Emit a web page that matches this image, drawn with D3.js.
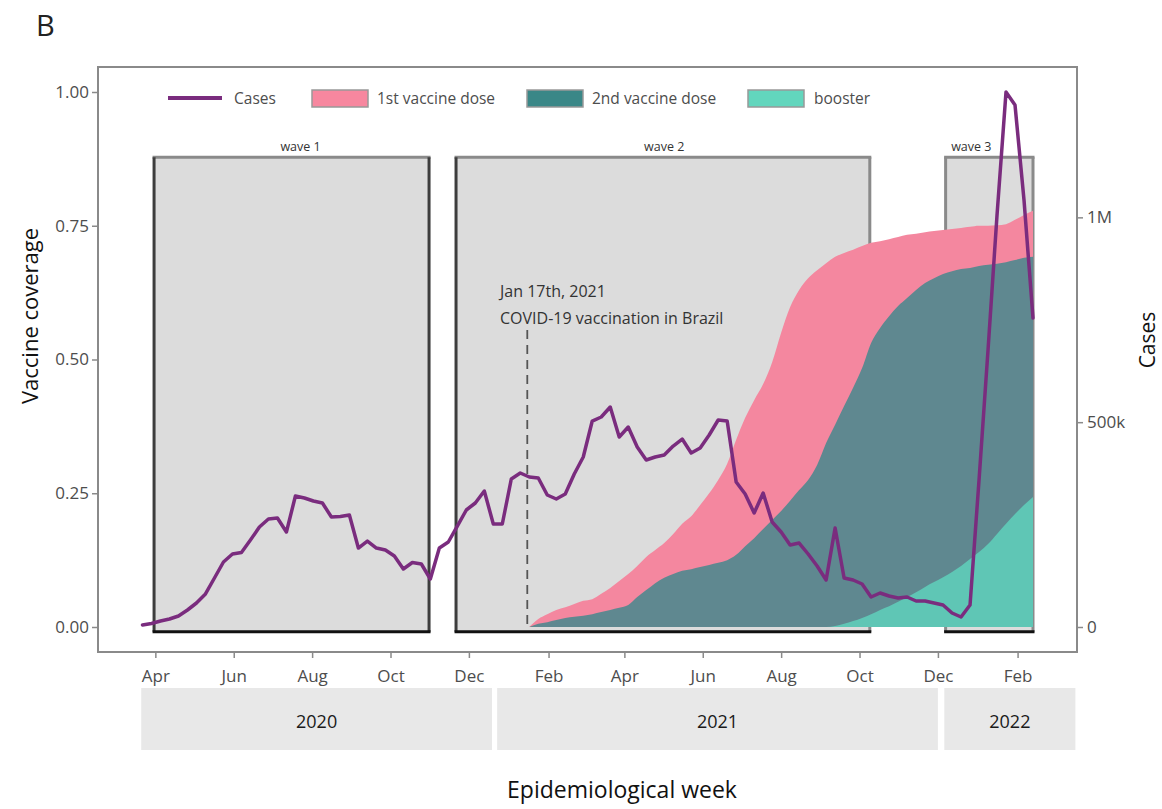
<!DOCTYPE html>
<html>
<head>
<meta charset="utf-8">
<script src="https://cdn.jsdelivr.net/npm/d3@7"></script>
<style>
  body { margin: 0; background: #fff; }
  text { font-family: "Open Sans", sans-serif; }
</style>
</head>
<body>
<svg id="chart" width="1162" height="809"></svg>
<script>
// Weekly reported COVID-19 cases in Brazil, one value per epidemiological week
const firstWeek = "2020-03-22";
const cases = [
  5000, 8500, 14600, 19500, 26900, 41500, 58600, 80600, 119600, 158700,
  178200, 181900, 212400, 244100, 263600, 266100, 231900, 319800, 314900, 307600,
  302700, 268500, 269700, 273400, 192800, 209900, 192800, 188000, 173300, 141600,
  157400, 153800, 117200, 192800, 207500, 246500, 285600, 302700, 332000, 251400,
  251400, 361300, 375900, 366200, 363700, 322200, 312400, 324700, 373500, 415000,
  502800, 512600, 537000, 463800, 488200, 439400, 407600, 415000, 419900, 441800,
  458900, 424700, 436900, 468700, 505300, 502800, 354000, 324700, 278300, 327100,
  256300, 231900, 200200, 205000, 178200, 148900, 114700, 241700, 119600, 114700,
  105000, 73200, 83000, 75700, 70800, 73200, 63500, 63500, 58600, 53700,
  34200, 24400, 53700, 358800, 676200, 1005700, 1306000, 1274200, 1042300, 754300
];

// Vaccine coverage (share of population), weekly from the start of vaccination
const vaccineStart = "2021-01-17";
const firstDose = [
  0, 0.015, 0.024, 0.032, 0.037, 0.043, 0.049, 0.052, 0.062, 0.073,
  0.086, 0.099, 0.114, 0.131, 0.144, 0.157, 0.174, 0.193, 0.207, 0.228,
  0.250, 0.275, 0.305, 0.350, 0.391, 0.424, 0.454, 0.495, 0.550, 0.598,
  0.630, 0.652, 0.667, 0.680, 0.692, 0.699, 0.705, 0.712, 0.718, 0.721,
  0.725, 0.729, 0.733, 0.735, 0.738, 0.740, 0.742, 0.744, 0.746, 0.748,
  0.750, 0.750, 0.751, 0.753, 0.761, 0.770, 0.778
];
const secondDose = [
  0, 0.006, 0.009, 0.013, 0.017, 0.019, 0.021, 0.024, 0.028, 0.032,
  0.036, 0.041, 0.056, 0.069, 0.082, 0.092, 0.099, 0.105, 0.108, 0.112,
  0.116, 0.120, 0.125, 0.135, 0.151, 0.166, 0.183, 0.200, 0.217, 0.236,
  0.256, 0.275, 0.303, 0.344, 0.378, 0.413, 0.447, 0.484, 0.531, 0.559,
  0.581, 0.600, 0.615, 0.630, 0.643, 0.652, 0.660, 0.665, 0.669, 0.671,
  0.675, 0.677, 0.679, 0.682, 0.686, 0.690, 0.692
];
const booster = [
  0, 0, 0, 0, 0, 0, 0, 0, 0, 0,
  0, 0, 0, 0, 0, 0, 0, 0, 0, 0,
  0, 0, 0, 0, 0, 0, 0, 0, 0, 0,
  0, 0, 0, 0, 0.002, 0.006, 0.011, 0.017, 0.024, 0.032,
  0.039, 0.047, 0.056, 0.065, 0.075, 0.084, 0.093, 0.103, 0.114, 0.127,
  0.140, 0.155, 0.174, 0.193, 0.211, 0.228, 0.243
];

// Epidemic waves
const waveNames = ["wave 1", "wave 2", "wave 3"];
const waveStarts = ["2020-03-31", "2020-11-21", "2021-12-07"];
const waveEnds = ["2020-10-31", "2021-10-09", "2022-02-13"];
const waveLabelDates = ["2020-07-23", "2021-05-02", "2021-12-27"];

// Axis ticks
const monthTicks = ["2020-04-01", "2020-06-01", "2020-08-01", "2020-10-01", "2020-12-01",
  "2021-02-01", "2021-04-01", "2021-06-01", "2021-08-01", "2021-10-01", "2021-12-01", "2022-02-01"];
const coverageTicks = [0, 0.25, 0.5, 0.75, 1];
const caseTicks = [0, 500000, 1000000];
const caseTickLabels = ["0", "500k", "1M"];

// Year bands under the time axis
const yearLabels = ["2020", "2021", "2022"];
const yearStarts = ["2020-03-21", "2020-12-23", "2021-12-06"];
const yearEnds = ["2020-12-19", "2021-12-01", "2022-03-18"];

// Legend entries
const legendLabels = ["Cases", "1st vaccine dose", "2nd vaccine dose", "booster"];

const parse = d3.utcParse("%Y-%m-%d");
const svg = d3.select("#chart");

const panel = { left: 98, right: 1077, top: 67, bottom: 652 };
const weekDates = cases.map((_, i) => d3.utcWeek.offset(parse(firstWeek), i));
const vacDates = firstDose.map((_, i) => d3.utcWeek.offset(parse(vaccineStart), i));

const x = d3.scaleUtc()
  .domain([weekDates[0], weekDates[weekDates.length - 1]])
  .range([142.5, 1033]);
const y = d3.scaleLinear().domain([0, 1]).range([627, 92]);
const yCases = d3.scaleLinear().domain([0, d3.max(cases)]).range([627, 92]);

const colors = {
  cases: "#7a2c7e",
  first: "#f4879f",
  second: "#5f8890",
  booster: "#5fc6b5"
};
const legendColors = ["#7a2c7e", "#f7879f", "#3a8787", "#62d6bd"];

// Title letter
svg.append("text").attr("x", 36).attr("y", 36)
  .attr("font-size", 29).attr("fill", "#222").text("B");

// Panel background and border
svg.append("rect")
  .attr("x", panel.left).attr("y", panel.top)
  .attr("width", panel.right - panel.left).attr("height", panel.bottom - panel.top)
  .attr("fill", "#fff").attr("stroke", "#8a8a8a").attr("stroke-width", 2);

// Wave shading
const waveTopY = y(0.878), waveBottomY = y(-0.009);
const waveG = svg.append("g");
waveNames.forEach((name, i) => {
  const x0 = x(parse(waveStarts[i])), x1 = x(parse(waveEnds[i]));
  waveG.append("rect")
    .attr("x", x0).attr("y", waveTopY)
    .attr("width", x1 - x0).attr("height", waveBottomY - waveTopY)
    .attr("fill", "#dcdcdc");
  waveG.append("line")
    .attr("x1", x0 - 1.5).attr("x2", x1 + 1.5).attr("y1", waveTopY).attr("y2", waveTopY)
    .attr("stroke", "#8a8a8a").attr("stroke-width", 3);
  const leftDark = i < 2, rightDark = i === 0;
  waveG.append("line")
    .attr("x1", x0).attr("x2", x0).attr("y1", waveTopY).attr("y2", waveBottomY)
    .attr("stroke", leftDark ? "#3d3d3d" : "#8a8a8a").attr("stroke-width", 3);
  waveG.append("line")
    .attr("x1", x1).attr("x2", x1).attr("y1", waveTopY).attr("y2", waveBottomY)
    .attr("stroke", rightDark ? "#3d3d3d" : "#8a8a8a").attr("stroke-width", 3);
  waveG.append("text")
    .attr("x", x(parse(waveLabelDates[i]))).attr("y", waveTopY - 6)
    .attr("text-anchor", "middle").attr("font-size", 12.5).attr("fill", "#333")
    .text(name);
});

// Start of vaccination marker
const vacX = x(parse(vaccineStart));
svg.append("line")
  .attr("x1", vacX - 2).attr("x2", vacX - 2).attr("y1", 330).attr("y2", y(0))
  .attr("stroke", "#555").attr("stroke-width", 1.8).attr("stroke-dasharray", "9,6");
svg.append("text").attr("x", 500).attr("y", 297)
  .attr("font-size", 16).attr("fill", "#333").text("Jan 17th, 2021");
svg.append("text").attr("x", 500).attr("y", 324)
  .attr("font-size", 16).attr("fill", "#333").text("COVID-19 vaccination in Brazil");

// Vaccine coverage areas
const area = d3.area()
  .x(d => x(d[0])).y0(y(0)).y1(d => y(d[1]))
  .curve(d3.curveMonotoneX);
[[firstDose, colors.first], [secondDose, colors.second], [booster, colors.booster]]
  .forEach(([vals, col]) => {
    svg.append("path")
      .datum(vals.map((v, i) => [vacDates[i], v]))
      .attr("d", area).attr("fill", col);
  });

// Bottom edges of the wave boxes
waveNames.forEach((name, i) => {
  const x0 = x(parse(waveStarts[i])), x1 = x(parse(waveEnds[i]));
  svg.append("line")
    .attr("x1", x0 - 1.5).attr("x2", x1 + 1.5).attr("y1", waveBottomY).attr("y2", waveBottomY)
    .attr("stroke", "#111").attr("stroke-width", 3);
});

// Weekly cases line
const line = d3.line().x((d, i) => x(weekDates[i])).y(d => yCases(d));
svg.append("path").datum(cases)
  .attr("d", line).attr("fill", "none")
  .attr("stroke", colors.cases).attr("stroke-width", 3.5)
  .attr("stroke-linejoin", "round").attr("stroke-linecap", "round");

// Left axis
const leftAxis = svg.append("g")
  .attr("transform", `translate(${panel.left - 1},0)`)
  .call(d3.axisLeft(y).tickValues(coverageTicks).tickFormat(d3.format(".2f")).tickSize(5).tickPadding(3));
leftAxis.select(".domain").remove();
leftAxis.selectAll(".tick line").attr("stroke", "#8a8a8a").attr("stroke-width", 1.5);
leftAxis.selectAll(".tick text").attr("font-size", 17).attr("fill", "#4d4d4d")
  .attr("font-family", "Open Sans, sans-serif");

// Right axis
const rightAxis = svg.append("g")
  .attr("transform", `translate(${panel.right + 1},0)`)
  .call(d3.axisRight(yCases).tickValues(caseTicks)
    .tickFormat((d, i) => caseTickLabels[i]).tickSize(5).tickPadding(4));
rightAxis.select(".domain").remove();
rightAxis.selectAll(".tick line").attr("stroke", "#8a8a8a").attr("stroke-width", 1.5);
rightAxis.selectAll(".tick text").attr("font-size", 17).attr("fill", "#4d4d4d")
  .attr("font-family", "Open Sans, sans-serif");

// Bottom axis
const bottomAxis = svg.append("g")
  .attr("transform", `translate(0,${panel.bottom + 1})`)
  .call(d3.axisBottom(x).tickValues(monthTicks.map(parse))
    .tickFormat(d3.utcFormat("%b")).tickSize(5).tickPadding(12));
bottomAxis.select(".domain").remove();
bottomAxis.selectAll(".tick line").attr("stroke", "#8a8a8a").attr("stroke-width", 1.5);
bottomAxis.selectAll(".tick text").attr("font-size", 17).attr("fill", "#4d4d4d")
  .attr("font-family", "Open Sans, sans-serif");

// Year bands
yearLabels.forEach((lab, i) => {
  const x0 = x(parse(yearStarts[i])), x1 = x(parse(yearEnds[i]));
  svg.append("rect").attr("x", x0).attr("y", 688)
    .attr("width", x1 - x0).attr("height", 62).attr("fill", "#e8e8e8");
  svg.append("text").attr("x", (x0 + x1) / 2).attr("y", 721)
    .attr("dominant-baseline", "central").attr("text-anchor", "middle")
    .attr("font-size", 18).attr("fill", "#1a1a1a").text(lab);
});

// Axis titles
svg.append("text").attr("transform", "translate(38,316) rotate(-90)")
  .attr("text-anchor", "middle").attr("font-size", 22).attr("fill", "#111")
  .text("Vaccine coverage");
svg.append("text").attr("transform", "translate(1155,340) rotate(-90)")
  .attr("text-anchor", "middle").attr("font-size", 21).attr("fill", "#111")
  .text("Cases");
svg.append("text").attr("x", 622).attr("y", 798)
  .attr("text-anchor", "middle").attr("font-size", 23).attr("fill", "#111")
  .text("Epidemiological week");

// Legend
const legend = svg.append("g");
const keyX = [168, 312, 527, 748];
const textX = [234, 377, 592, 814];
legendLabels.forEach((lab, i) => {
  if (i === 0) {
    legend.append("line").attr("x1", keyX[i]).attr("x2", keyX[i] + 54)
      .attr("y1", 98).attr("y2", 98)
      .attr("stroke", legendColors[i]).attr("stroke-width", 4);
  } else {
    legend.append("rect").attr("x", keyX[i]).attr("y", 90)
      .attr("width", 56).attr("height", 17)
      .attr("fill", legendColors[i]).attr("stroke", "#999").attr("stroke-width", 1.5);
  }
  legend.append("text").attr("x", textX[i]).attr("y", 98)
    .attr("dominant-baseline", "central").attr("font-size", 15.5).attr("fill", "#4d4d4d")
    .text(lab);
});
</script>
</body>
</html>
